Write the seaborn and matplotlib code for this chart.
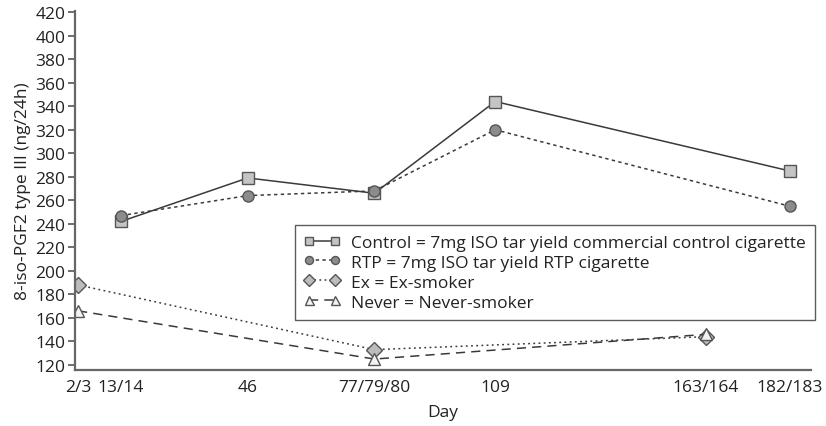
import matplotlib
matplotlib.use("Agg")
import matplotlib.pyplot as plt
import pandas as pd
import seaborn as sns

# Study visit days (plot positions) and their axis labels
day_pos = [2.5, 13.5, 46, 78.5, 109.5, 163.5, 185]
day_labels = ["2/3", "13/14", "46", "77/79/80", "109", "163/164", "182/183"]

# 8-iso-PGF2 type III excretion (ng/24h) per group
control_days = [13.5, 46, 78.5, 109.5, 185]
control_vals = [242, 279, 266, 344, 285]
rtp_days = [13.5, 46, 78.5, 109.5, 185]
rtp_vals = [247, 264, 268, 320, 255]
ex_days = [2.5, 78.5, 163.5]
ex_vals = [188, 133, 144]
never_days = [2.5, 78.5, 163.5]
never_vals = [166, 125, 146]

series_names = [
    "Control = 7mg ISO tar yield commercial control cigarette",
    "RTP = 7mg ISO tar yield RTP cigarette",
    "Ex = Ex-smoker",
    "Never = Never-smoker",
]

sns.set_style("ticks")
plt.rcParams["font.family"] = ["Open Sans", "DejaVu Sans"]
fs = 12.5
plt.rcParams["font.size"] = fs

fig = plt.figure(figsize=(8.26, 4.27), dpi=100)
ax = fig.add_axes([0.0908, 0.132, 0.891, 0.840])

line_col = "#3a3a3a"
styles = [
    dict(marker="s", ms=8, mfc="#c4c4c4", ls="-", lw=1.1),
    dict(marker="o", ms=8, mfc="#8c8c8c", ls=(0, (2.2, 2.2)), lw=1.1),
    dict(marker="D", ms=8, mfc="#bcbcbc", ls=(0, (1.2, 2.2)), lw=1.1),
    dict(marker="^", ms=9, mfc="#f2f2f2", ls=(0, (6, 4)), lw=1.1),
]
data = [(control_days, control_vals), (rtp_days, rtp_vals),
        (ex_days, ex_vals), (never_days, never_vals)]

for name, (xs, ys), st in zip(series_names, data, styles):
    df = pd.DataFrame({"day": xs, "value": ys})
    sns.lineplot(data=df, x="day", y="value", ax=ax, label=name,
                 color=line_col, mec="#555555", mew=1.0, **st)

ax.set_xlim(1.7, 190.5)
ax.set_ylim(116, 421)
ax.set_yticks(range(120, 421, 20))
ax.set_xticks(day_pos)
ax.set_xticklabels(day_labels)
ax.tick_params(axis="x", length=0, pad=7, labelsize=fs, colors="#222222")
ax.tick_params(axis="y", length=5, width=1.2, pad=2, labelsize=fs,
               colors="#222222", color="#555555")
ax.set_xlabel("Day", fontsize=fs, color="#222222", labelpad=6)
ax.set_ylabel("8-iso-PGF2 type III (ng/24h)", fontsize=fs, color="#222222", labelpad=3)

for side in ["top", "right"]:
    ax.spines[side].set_visible(False)
for side in ["left", "bottom"]:
    ax.spines[side].set_color("#666666")
    ax.spines[side].set_linewidth(1.6)

leg = ax.legend(loc="upper right", bbox_to_anchor=(0.987, 0.471),
                bbox_transform=fig.transFigure, borderaxespad=0,
                frameon=True, fancybox=False, edgecolor="#333333",
                fontsize=fs, handlelength=2.1, handletextpad=0.6,
                labelspacing=0.22, borderpad=0.55, numpoints=2,
                markerscale=0.72)
leg.get_frame().set_linewidth(1.0)
for t in leg.get_texts():
    t.set_color("#222222")

fig.savefig("out.png", dpi=100)
